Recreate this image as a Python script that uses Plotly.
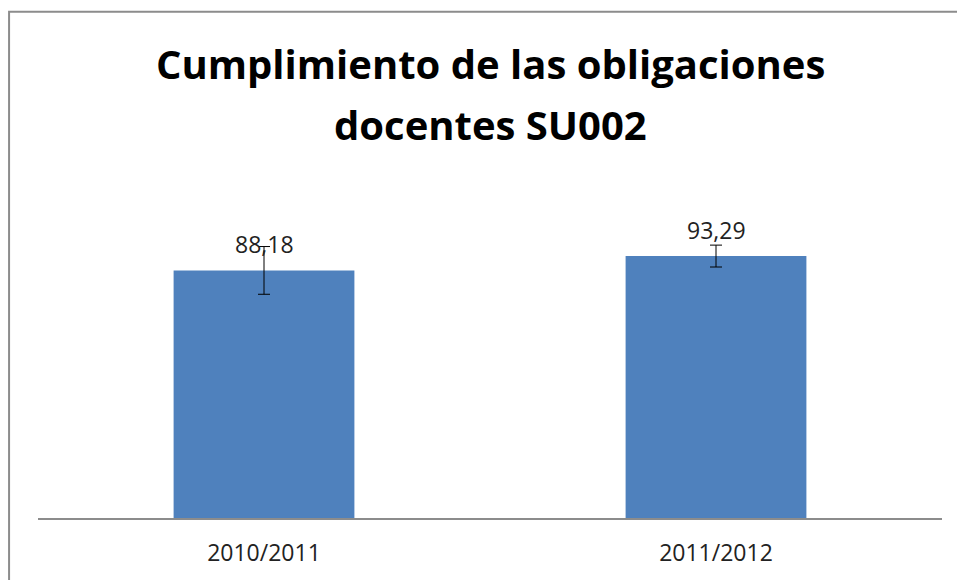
import plotly.graph_objects as go

cursos = ["2010/2011", "2011/2012"]
cumplimiento = [88.18, 93.29]
error = [8.5, 3.9]
etiquetas = ["88,18", "93,29"]
titulo = ["Cumplimiento de las obligaciones", "docentes SU002"]

fig = go.Figure(go.Bar(
    x=cursos, y=cumplimiento,
    marker_color="#4F81BD", marker_line_width=0,
    error_y=dict(type="data", array=error, color="black", thickness=1, width=6),
))

for c, v, t in zip(cursos, cumplimiento, etiquetas):
    fig.add_annotation(x=c, y=v, text=t, showarrow=False, yanchor="middle", yshift=26,
                       font=dict(family="Open Sans", size=23, color="#222222"))

# titulo en dos lineas (mas separadas que el <br> de plotly)
for t, yy in zip(titulo, [1.27, 1.098]):
    fig.add_annotation(x=0.5, y=yy, xref="paper", yref="paper", text="<b>%s</b>" % t,
                       showarrow=False, xanchor="center", yanchor="middle",
                       font=dict(family="Open Sans", size=40, color="black"))

# marco gris del grafico
fig.add_shape(type="rect", xref="paper", yref="paper", x0=-0.032, x1=1.1, y0=-0.3, y1=1.4139,
              line=dict(color="#8c8c8c", width=2))

fig.update_layout(
    width=957, height=580,
    margin=dict(l=38, r=15, t=160, b=60),
    paper_bgcolor="white", plot_bgcolor="white",
    bargap=0.6,
    showlegend=False,
    font=dict(family="Open Sans", size=23, color="#222222"),
)
fig.update_xaxes(showline=True, linecolor="#8c8c8c", linewidth=2, ticks="", showgrid=False,
                 ticklabelstandoff=13)
fig.update_yaxes(range=[0, 127.5], visible=False)

fig.write_html("out.html", config={"displayModeBar": False},
               post_script="document.body.style.margin='0';")
